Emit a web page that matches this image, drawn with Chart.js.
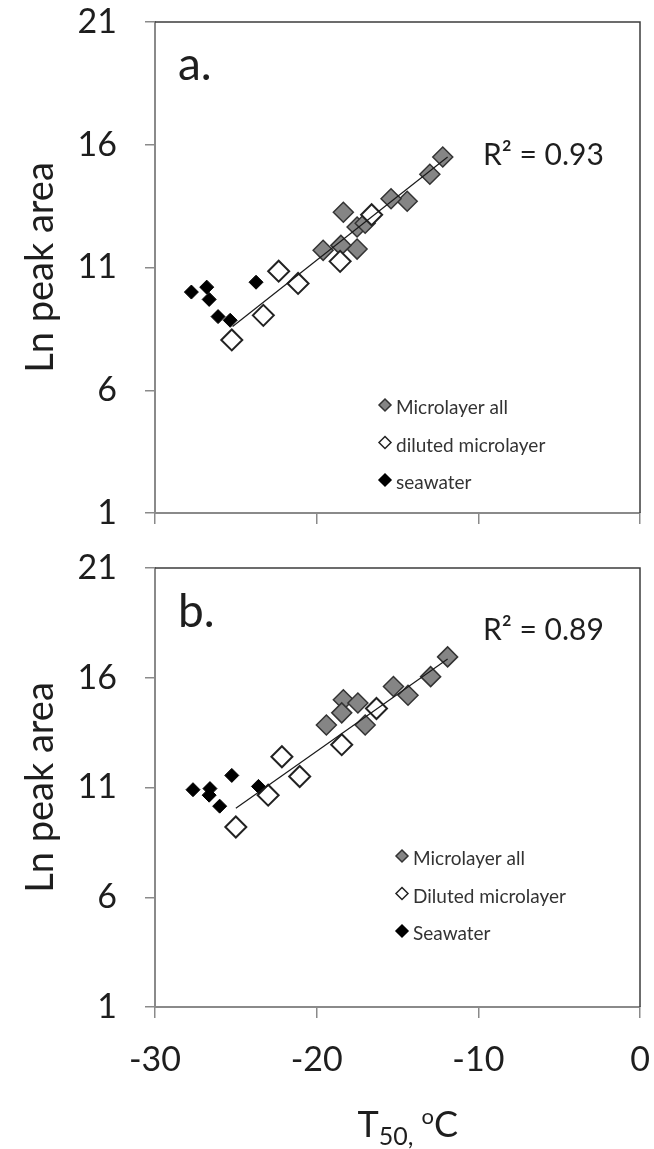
<!DOCTYPE html>
<html>
<head>
<meta charset="utf-8">
<script src="https://cdn.jsdelivr.net/npm/chart.js@4.4.1/dist/chart.umd.min.js"></script>
<style>
  body { margin: 0; background: #fff; }
  #wrap { position: relative; width: 654px; height: 1149px; }
  canvas { position: absolute; left: 0; }
  #chartA { top: 0; }
  #chartB { top: 545px; }
</style>
</head>
<body>
<div id="wrap">
  <canvas id="chartA" width="654" height="545"></canvas>
  <canvas id="chartB" width="654" height="604"></canvas>
</div>
<script>
// panel a
let grayAX = [-12.2, -13.0, -14.4, -15.4, -18.35, -17.5, -17.0, -17.5, -19.6, -18.5];
let grayAY = [15.5, 14.8, 13.7, 13.8, 13.25, 12.65, 12.8, 11.75, 11.7, 11.9];
let whiteAX = [-16.6, -18.55, -22.35, -21.15, -23.3, -25.25];
let whiteAY = [13.15, 11.25, 10.85, 10.35, 9.05, 8.05];
let blackAX = [-27.75, -26.8, -26.65, -26.1, -25.35, -23.75];
let blackAY = [10.0, 10.2, 9.7, 9.0, 8.85, 10.4];
let trendAX = [-25.2, -11.9];
let trendAY = [8.6, 15.5];

// panel b
let grayBX = [-11.9, -12.95, -14.35, -15.25, -18.35, -17.45, -18.45, -17.0, -19.4];
let grayBY = [16.95, 16.05, 15.2, 15.6, 15.0, 14.85, 14.4, 13.85, 13.85];
let whiteBX = [-16.3, -18.45, -22.15, -21.05, -23.0, -25.0];
let whiteBY = [14.6, 12.95, 12.4, 11.5, 10.65, 9.2];
let blackBX = [-27.65, -26.6, -26.65, -26.0, -25.25, -23.6];
let blackBY = [10.9, 10.95, 10.65, 10.15, 11.55, 11.05];
let trendBX = [-25.0, -11.9];
let trendBY = [10.05, 16.85];

let labelsA = ['Microlayer all', 'diluted microlayer', 'seawater'];
let labelsB = ['Microlayer all', 'Diluted microlayer', 'Seawater'];
let r2A = 'R\u00B2 = 0.93';
let r2B = 'R\u00B2 = 0.89';

let xTicks = [-30, -20, -10, 0];
let yTicks = [1, 6, 11, 16, 21];

Chart.defaults.font.family = 'Lato, "Liberation Sans", sans-serif';

let toPoints = function (xs, ys) {
    return xs.map(function (x, i) { return { x: x, y: ys[i] }; });
}

let diamond = function (ctx, x, y, r, fill, stroke, lw) {
    ctx.beginPath();
    ctx.moveTo(x, y - r);
    ctx.lineTo(x + r, y);
    ctx.lineTo(x, y + r);
    ctx.lineTo(x - r, y);
    ctx.closePath();
    ctx.fillStyle = fill;
    ctx.fill();
    ctx.strokeStyle = stroke;
    ctx.lineWidth = lw;
    ctx.stroke();
}

let markerStyles = [
    { fill: '#858585', stroke: '#333', lw: 1.5 },
    { fill: '#ffffff', stroke: '#222', lw: 2 },
    { fill: '#000000', stroke: '#000', lw: 1 }
];

let makeTextPlugin = function (cfg) {
    return {
        id: 'panelText',
        afterDraw: function (chart) {
            let ctx = chart.ctx;
            let area = chart.chartArea;
            ctx.save();
            // top and right frame
            ctx.strokeStyle = '#3c3c3c';
            ctx.lineWidth = 1.5;
            ctx.beginPath();
            ctx.moveTo(area.left, area.top);
            ctx.lineTo(area.right, area.top);
            ctx.lineTo(area.right, area.bottom);
            ctx.stroke();

            ctx.fillStyle = '#1e1e1e';
            ctx.textAlign = 'left';
            ctx.textBaseline = 'alphabetic';
            ctx.font = '46px Lato';
            ctx.fillText(cfg.letter, area.left + 23, area.top + cfg.letterY);
            ctx.font = '30px Lato';
            ctx.fillText(cfg.r2, area.left + 328, area.top + cfg.r2Y);

            // legend
            ctx.font = '19px Lato';
            ctx.textBaseline = 'middle';
            for (let i = 0; i < cfg.labels.length; i++) {
                let ly = area.top + cfg.legendY + i * 37.5;
                let st = markerStyles[i];
                diamond(ctx, cfg.legendX, ly - 2, 6, st.fill, st.stroke, 1.5);
                ctx.fillStyle = '#333';
                ctx.fillText(cfg.labels[i], cfg.legendX + 11, ly + 1);
            }

            if (cfg.xTitle) {
                let cx = (area.left + area.right) / 2 - 40;
                let by = chart.height - 12;
                ctx.textBaseline = 'alphabetic';
                ctx.fillStyle = '#1e1e1e';
                ctx.font = '36px Lato';
                ctx.fillText('T', cx, by);
                let w = ctx.measureText('T').width;
                ctx.font = '25px Lato';
                ctx.fillText('50,', cx + w, by + 8);
                w += ctx.measureText('50,').width + 8;
                ctx.font = '22px Lato';
                ctx.fillText('o', cx + w, by - 13);
                w += ctx.measureText('o').width;
                ctx.font = '36px Lato';
                ctx.fillText('C', cx + w, by);
            }
            ctx.restore();
        }
    };
}

let makeChart = function (id, gx, gy, wx, wy, bx, by, tx, ty, labels, cfg) {
    let ctx = document.getElementById(id).getContext('2d');
    return new Chart(ctx, {
        type: 'scatter',
        data: {
            datasets: [{
                type: 'line',
                label: 'trend',
                data: toPoints(tx, ty),
                borderColor: '#1a1a1a',
                borderWidth: 1.2,
                pointRadius: 0,
                fill: false,
                order: 1
            }, {
                label: labels[0],
                data: toPoints(gx, gy),
                pointStyle: 'rectRot',
                pointRadius: 10,
                backgroundColor: markerStyles[0].fill,
                borderColor: markerStyles[0].stroke,
                borderWidth: 1.5,
                order: 4
            }, {
                label: labels[1],
                data: toPoints(wx, wy),
                pointStyle: 'rectRot',
                pointRadius: 10.5,
                backgroundColor: markerStyles[1].fill,
                borderColor: markerStyles[1].stroke,
                borderWidth: 2,
                order: 3
            }, {
                label: labels[2],
                data: toPoints(bx, by),
                pointStyle: 'rectRot',
                pointRadius: 7,
                backgroundColor: markerStyles[2].fill,
                borderColor: markerStyles[2].stroke,
                borderWidth: 1,
                order: 2
            }]
        },
        options: {
            responsive: false,
            animation: false,
            layout: { padding: { top: cfg.padTop, right: 14, left: 0, bottom: 0 } },
            plugins: {
                legend: { display: false },
                tooltip: { enabled: false }
            },
            scales: {
                x: {
                    type: 'linear',
                    min: xTicks[0],
                    max: xTicks[xTicks.length - 1],
                    afterBuildTicks: function (scale) {
                        scale.ticks = xTicks.map(function (v) { return { value: v }; });
                    },
                    afterFit: function (scale) {
                        scale.height = cfg.xHeight;
                        scale.paddingLeft = 0;
                        scale.paddingRight = 0;
                    },
                    grid: { drawOnChartArea: false, drawTicks: true, tickLength: 11, color: '#8a8a8a', lineWidth: 1.5 },
                    border: { display: true, color: '#8a8a8a', width: 2 },
                    ticks: {
                        padding: 22,
                        color: '#1e1e1e',
                        font: { size: 34 },
                        maxRotation: 0,
                        callback: function (v) { return cfg.xLabels ? String(v) : ''; }
                    }
                },
                y: {
                    min: yTicks[0],
                    max: yTicks[yTicks.length - 1],
                    afterBuildTicks: function (scale) {
                        scale.ticks = yTicks.map(function (v) { return { value: v }; });
                    },
                    afterFit: function (scale) {
                        scale.width = 155;
                        scale.paddingTop = 0;
                        scale.paddingBottom = 0;
                    },
                    grid: { drawOnChartArea: false, drawTicks: true, tickLength: 10, color: '#8a8a8a', lineWidth: 1.5 },
                    border: { display: true, color: '#8a8a8a', width: 2 },
                    title: {
                        display: true,
                        text: 'Ln peak area',
                        color: '#1e1e1e',
                        font: { size: 38 },
                        padding: { top: 18, bottom: 0 }
                    },
                    ticks: {
                        padding: 28,
                        color: '#1e1e1e',
                        font: { size: 34 }
                    }
                }
            }
        },
        plugins: [makeTextPlugin(cfg)]
    });
}

makeChart('chartA', grayAX, grayAY, whiteAX, whiteAY, blackAX, blackAY, trendAX, trendAY, labelsA, {
    padTop: 22, xHeight: 32, xLabels: false,
    letter: 'a.', letterY: 58, r2: r2A, r2Y: 143,
    labels: labelsA, legendX: 385, legendY: 385, xTitle: false
});

makeChart('chartB', grayBX, grayBY, whiteBX, whiteBY, blackBX, blackBY, trendBX, trendBY, labelsB, {
    padTop: 23, xHeight: 142, xLabels: true,
    letter: 'b.', letterY: 59, r2: r2B, r2Y: 72,
    labels: labelsB, legendX: 402, legendY: 290, xTitle: true
});
</script>
</body>
</html>
